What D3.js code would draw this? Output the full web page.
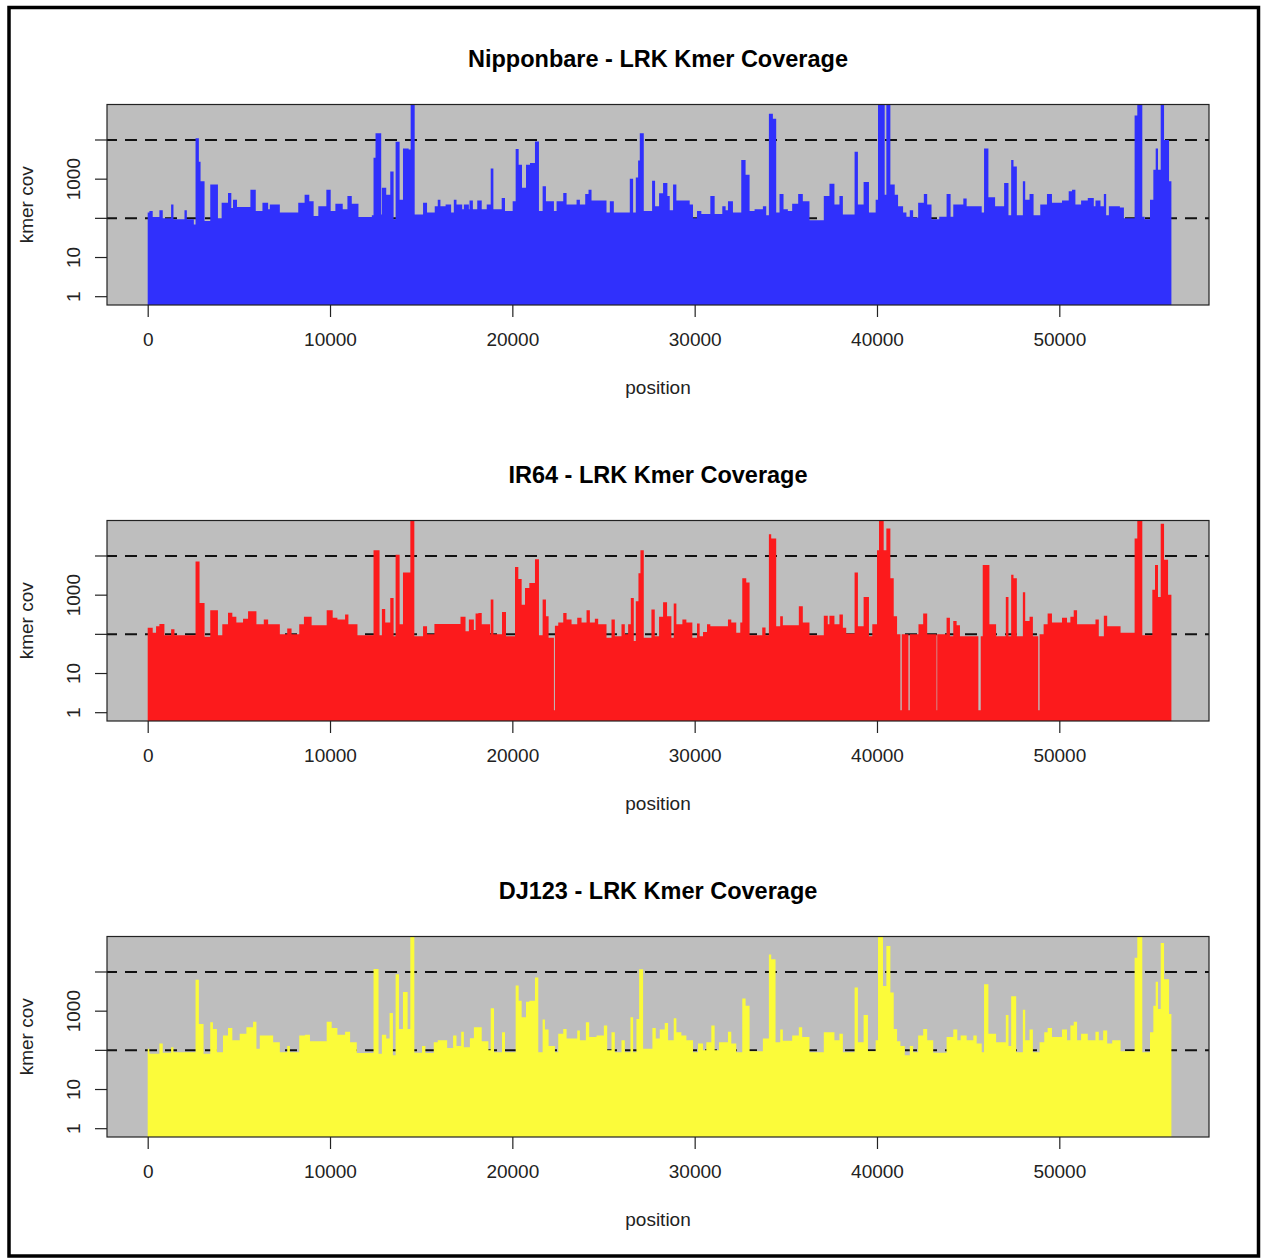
<!DOCTYPE html>
<html>
<head>
<meta charset="utf-8">
<script src="https://cdn.jsdelivr.net/npm/d3@7"></script>
<style>
  body { margin: 0; background: #fff; }
  text { font-family: "Liberation Sans", Arial, Helvetica, sans-serif; }
</style>
</head>
<body>
<div id="chart"></div>
<script>
const width = 1261;
const height = 1258;

// step data: [position, kmer coverage] - value holds until next position
const nipponbare = [[0,140],[92,155],[275,108],[642,160],[826,100],[1284,225],[1413,95],[2018,160],[2147,95],[2532,70],[2624,11000],[2807,2800],[2900,890],[3119,86],[3431,730],[3853,100],[4055,250],[4404,445],[4587,185],[4679,300],[4899,195],[5633,540],[5927,155],[6294,250],[6606,170],[6698,225],[7248,140],[8257,250],[8606,400],[8863,275],[9101,115],[9358,205],[9799,540],[10037,155],[10294,235],[10697,170],[10954,370],[11193,235],[11560,108],[12294,120],[12386,3500],[12496,14800],[12808,125],[12845,600],[13083,400],[13304,1580],[13487,95],[13597,9000],[13817,300],[14001,6100],[14313,5700],[14423,100000],[14644,125],[15102,250],[15322,140],[15744,205],[15909,300],[16056,205],[16340,225],[16643,140],[16790,300],[16937,225],[17250,170],[17340,225],[17616,170],[17652,285],[17836,170],[18075,285],
  [18321,170],[18595,225],[18814,1860],[18960,170],[19416,330],[19598,155],[20018,275],[20182,5900],[20347,2350],[20529,600],[20748,2350],[20967,2600],[21241,9100],[21460,155],[21661,660],[21843,275],[22281,155],[22427,275],[22792,445],[22975,225],[23522,300],[23705,225],[23997,420],[24179,540],[24343,285],[25165,140],[25347,275],[25566,140],[26442,1030],[26625,140],[26771,1100],[26898,3000],[26990,14800],[27209,155],[27665,910],[27829,205],[28048,440],[28267,800],[28504,370],[28632,160],[28815,730],[28997,285],[29727,225],[29910,100],[30129,155],[30366,130],[30859,370],[31096,130],[31516,205],[31698,160],[31826,275],[32100,140],[32556,3100],[32793,1290],[33012,155],[33286,170],[33742,205],[33925,120],[34071,47000],[34290,35000],[34472,140],[34655,420],[34874,170],[35111,155],[35348,235],[35677,420],[35932,275],[36297,90],[37082,370],[37392,760],[37666,225],[37940,370],
  [38129,125],[38771,5000],[38954,225],[39266,850],[39560,140],[39927,300],[40055,100000],[40422,400],[40514,100000],[40734,730],[40973,400],[41156,205],[41432,140],[41615,110],[41799,160],[41982,105],[42257,250],[42569,420],[42753,225],[42991,95],[43413,110],[43817,420],[44037,110],[44184,225],[44735,320],[44918,205],[45744,140],[45872,6100],[46111,345],[46478,205],[46973,800],[47212,120],[47359,3100],[47487,2100],[47671,120],[48001,890],[48129,300],[48368,420],[48588,120],[48955,225],[49322,420],[49597,250],[50148,285],[50515,490],[50698,540],[50882,225],[51194,285],[51561,330],[51891,205],[51983,285],[52258,205],[52442,420],[52570,120],[52717,205],[53322,190],[53543,100],[54130,42000],[54277,100000],[54552,110],[54680,95],[54974,300],[55157,1740],[55286,6100],[55414,1740],[55561,100000],[55745,10000],[56020,890],[56148,0]];

const ir64 = [[0,148],[275,110],[459,160],[642,185],[917,95],[1284,135],[1468,95],[2624,7200],[2844,630],[3119,87],[3431,410],[3853,95],[4092,180],[4404,355],[4642,280],[4863,200],[5230,250],[5505,390],[5964,180],[6367,240],[6606,180],[7248,100],[7652,140],[7890,100],[8312,180],[8569,280],[8991,170],[9817,410],[10147,265],[10404,240],[10826,320],[11009,180],[11505,95],[12386,14000],[12716,95],[12845,445],[13028,200],[13304,850],[13487,90],[13597,10700],[13817,180],[14001,3800],[14405,100000],[14625,90],[15102,160],[15322,100],[15726,185],[17157,280],[17432,120],[17616,240],[17891,130],[17983,340],
  [18138,350],[18321,180],[18777,100],[18814,770],[18960,100],[19434,370],[19653,90],[20146,5200],[20328,2600],[20511,570],[20693,1520],[20931,2030],[21241,8300],[21460,95],[21661,770],[21843,290],[21989,82],[22281,1.15],[22336,165],[22518,200],[22792,350],[22975,240],[23248,180],[23559,265],[23796,200],[24070,410],[24252,200],[24526,250],[24708,180],[25165,82],[25438,240],[25621,90],[25986,180],[26168,100],[26351,180],[26497,850],[26661,68],[26771,700],[26917,3650],[27026,14000],[27209,82],[27628,430],[27811,90],[28048,280],[28267,660],[28486,290],[28723,82],[28851,610],[28997,180],[29326,240],[29545,200],[29873,82],[30129,190],[30275,90],[30457,115],[30676,180],[30859,160],[31826,240],[32008,200],[32282,110],[32501,200],[32611,2700],[32830,2100],[33012,95],[33706,150],[33888,95],[34071,36000],[34198,28000],[34472,160],[34691,290],[34837,170],[35713,520],[35932,200],[36297,95],[37082,300],[37301,180],[37392,300],[37666,180],[37940,320],
  [38129,148],[38312,105],[38771,3800],[38954,160],[39266,900],[39560,90],[39743,180],[40000,14000],[40110,100000],[40367,14000],[40514,50000],[40734,2700],[40918,290],[41101,100],[41285,1.15],[41358,100],[41725,1.15],[41799,100],[42276,180],[42533,340],[42753,100],[43267,1.15],[43303,100],[43817,265],[44001,90],[44184,220],[44368,170],[44551,90],[45561,1.15],[45689,90],[45799,5900],[46166,180],[46533,90],[47065,900],[47212,90],[47359,3300],[47487,2700],[47671,90],[48001,1180],[48129,220],[48368,280],[48551,90],[48845,1.15],[48918,100],[49139,180],[49359,340],[49597,200],[50148,265],[50423,200],[50607,280],[50790,410],[50974,180],[51983,240],[52166,90],[52442,300],[52625,160],[53359,110],[54130,28000],[54277,100000],[54552,95],[55102,1380],[55249,5900],[55414,900],[55561,67000],[55745,8000],[55965,1030],[56148,0]];

const dj123 = [[0,110],[92,82],[642,150],[826,87],[1284,120],[1413,90],[2624,6300],[2807,470],[3064,82],[3431,520],[3578,350],[3798,90],[4129,240],[4404,370],[4642,180],[5046,265],[5413,390],[5780,540],[5964,110],[6147,240],[6881,160],[7248,90],[7652,130],[7799,90],[8312,240],[8624,250],[8900,170],[9817,540],[10092,370],[10404,250],[10826,300],[11101,160],[11469,85],[12386,12000],[12661,82],[12845,250],[13083,200],[13267,900],[13450,75],[13597,8700],[13781,350],[14001,3100],[14258,350],[14405,100000],[14625,87],[15047,130],[15230,85],[15689,160],[15909,180],[16423,115],[16752,240],[16937,130],[17194,300],[17340,120],[17671,205],[17891,390],
  [18321,170],[18686,100],[18814,1180],[18996,90],[19434,290],[19598,90],[20182,4500],[20347,1850],[20511,700],[20748,1740],[20931,1850],[21241,7200],[21423,90],[21661,610],[21788,340],[21989,130],[22336,90],[22518,265],[22792,350],[22975,200],[23559,320],[23705,180],[24033,520],[24216,220],[24617,240],[25019,430],[25201,100],[25438,290],[25621,90],[25986,180],[26168,90],[26479,700],[26625,90],[26807,630],[26953,11700],[27172,110],[27683,370],[27866,200],[28085,340],[28358,500],[28541,180],[28851,660],[28997,290],[29271,240],[29545,180],[29910,90],[30183,150],[30457,100],[30640,160],[30913,430],[31096,100],[31333,160],[31826,300],[32008,150],[32282,90],[32611,2100],[32793,1380],[33012,95],[33742,200],[34071,28000],[34198,21000],[34436,160],[34691,340],[34837,175],[35348,240],[35713,390],[35896,220],[36297,90],[37082,290],[37666,180],[37940,265],
  [38129,90],[38771,4000],[38954,160],[39266,800],[39505,95],[39927,180],[40055,100000],[40331,4400],[40514,46000],[40734,3000],[40918,350],[41101,170],[41285,130],[41523,75],[41799,130],[41982,90],[42257,240],[42533,350],[42753,180],[43083,87],[43817,220],[44184,340],[44404,180],[44588,240],[44918,180],[45285,240],[45469,150],[45744,90],[45872,4900],[46111,265],[46533,160],[47065,800],[47212,130],[47359,2400],[47634,90],[48001,1090],[48129,180],[48368,340],[48551,90],[48918,160],[49175,290],[49359,370],[49597,220],[50148,340],[50423,180],[50607,430],[50790,540],[50974,180],[51194,265],[51561,180],[51983,300],[52166,180],[52405,320],[52625,150],[52900,180],[53359,95],[54130,23000],[54277,100000],[54552,90],[54974,290],[55157,1380],[55286,5600],[55414,1130],[55561,55000],[55745,6500],[56020,850],[56148,0]];

const seriesNames = ["Nipponbare", "IR64", "DJ123"];
const seriesColors = ["#3030fc", "#fc1a1c", "#fbfb3a"];
const xTicks = [0, 10000, 20000, 30000, 40000, 50000];
const yTicks = [1, 10, 100, 1000, 10000];
const yLabelled = [1, 10, 1000];
const cutoffs = [100, 10000];

const allSeries = [nipponbare, ir64, dj123];

const svg = d3.select("#chart").append("svg")
  .attr("width", width)
  .attr("height", height);

// outer frame
svg.append("rect")
  .attr("x", 9).attr("y", 7.5)
  .attr("width", 1249.5).attr("height", 1248.5)
  .attr("fill", "none")
  .attr("stroke", "#000")
  .attr("stroke-width", 3.5);

const plotLeft = 107, plotRight = 1209;
const plotTop = 104.5, plotH = 200.5;
const panelStep = 416;

const x = d3.scaleLinear().domain([-2232, 58210]).range([plotLeft, plotRight]);

allSeries.forEach(function(data, i) {
  const top = plotTop + i * panelStep;
  const bottom = top + plotH;
  const g = svg.append("g");

  const y = d3.scaleLog()
    .domain([Math.pow(10, -0.212), Math.pow(10, 4.906)])
    .range([bottom, top]);

  const clipId = "clip" + i;
  g.append("clipPath").attr("id", clipId)
    .append("rect")
    .attr("x", plotLeft).attr("y", top)
    .attr("width", plotRight - plotLeft).attr("height", plotH);

  g.append("rect")
    .attr("x", plotLeft).attr("y", top)
    .attr("width", plotRight - plotLeft).attr("height", plotH)
    .attr("fill", "#bebebe");

  // cutoff lines (under the coverage)
  g.selectAll(".cut")
    .data(cutoffs)
    .enter()
    .append("line")
    .attr("x1", plotLeft).attr("x2", plotRight)
    .attr("y1", function(d) { return y(d); })
    .attr("y2", function(d) { return y(d); })
    .attr("stroke", "#111")
    .attr("stroke-width", 2)
    .attr("stroke-dasharray", "12,8")
    .attr("stroke-dashoffset", 2);

  const area = d3.area()
    .curve(d3.curveStepAfter)
    .x(function(d) { return x(d[0]); })
    .y0(bottom)
    .y1(function(d) { return d[1] > 0 ? y(d[1]) : bottom; });

  g.append("path")
    .datum(data)
    .attr("clip-path", "url(#" + clipId + ")")
    .attr("d", area)
    .attr("fill", seriesColors[i]);

  g.append("rect")
    .attr("x", plotLeft).attr("y", top)
    .attr("width", plotRight - plotLeft).attr("height", plotH)
    .attr("fill", "none")
    .attr("stroke", "#222")
    .attr("stroke-width", 1.2);

  // x axis
  const xAxis = g.append("g")
    .attr("transform", "translate(0," + bottom + ")")
    .call(d3.axisBottom(x).tickValues(xTicks).tickSize(12).tickPadding(16).tickFormat(d3.format("d")));
  xAxis.select(".domain").remove();
  xAxis.selectAll("line").attr("stroke", "#222").attr("stroke-width", 1.2);
  xAxis.selectAll("text")
    .attr("fill", "#222")
    .style("font-size", "19px")
    .style("font-family", "'Liberation Sans', Arial, sans-serif");

  // y axis ticks
  g.selectAll(".ytick")
    .data(yTicks)
    .enter()
    .append("line")
    .attr("x1", plotLeft - 12).attr("x2", plotLeft)
    .attr("y1", function(d) { return y(d); })
    .attr("y2", function(d) { return y(d); })
    .attr("stroke", "#222")
    .attr("stroke-width", 1.2);

  g.selectAll(".ylab")
    .data(yLabelled)
    .enter()
    .append("text")
    .attr("transform", function(d) { return "translate(80," + y(d) + ") rotate(-90)"; })
    .attr("text-anchor", "middle")
    .attr("fill", "#222")
    .style("font-size", "19px")
    .text(function(d) { return d; });

  g.append("text")
    .attr("transform", "translate(33," + (top + plotH / 2) + ") rotate(-90)")
    .attr("text-anchor", "middle")
    .attr("fill", "#222")
    .style("font-size", "19px")
    .text("kmer cov");

  g.append("text")
    .attr("x", (plotLeft + plotRight) / 2)
    .attr("y", top + 289)
    .attr("text-anchor", "middle")
    .attr("fill", "#222")
    .style("font-size", "19px")
    .text("position");

  g.append("text")
    .attr("x", (plotLeft + plotRight) / 2)
    .attr("y", top - 38)
    .attr("text-anchor", "middle")
    .attr("fill", "#000")
    .style("font-size", "23.5px")
    .style("font-weight", "bold")
    .text(seriesNames[i] + " - LRK Kmer Coverage");
});
</script>
</body>
</html>
